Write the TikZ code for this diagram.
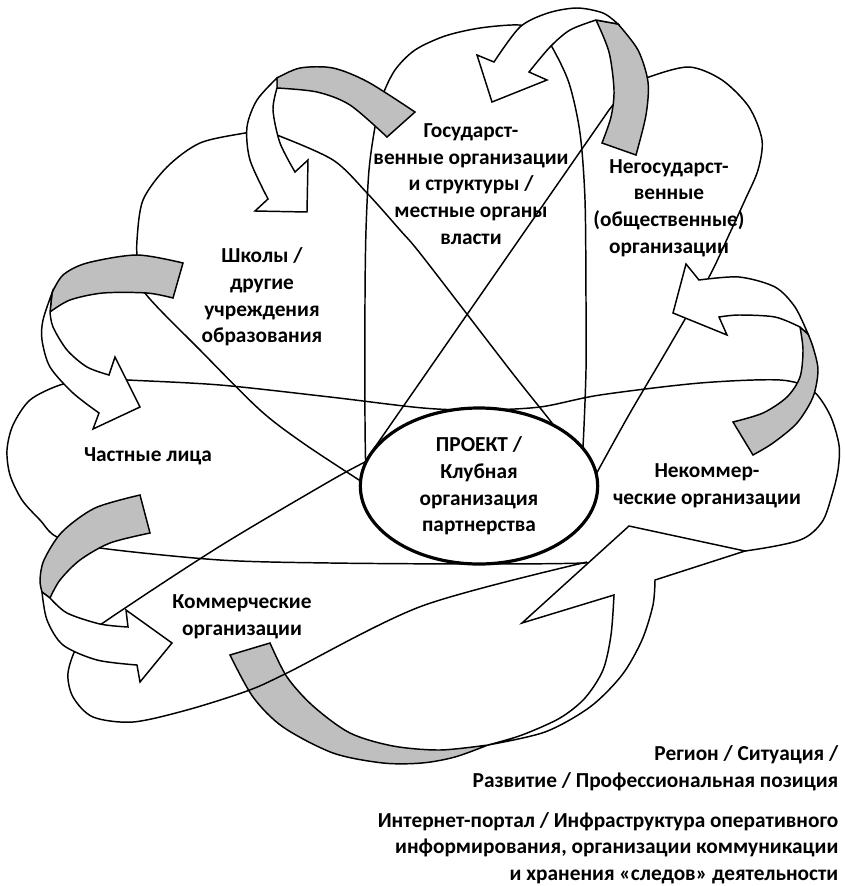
\documentclass[tikz,border=0pt]{standalone}
\usepackage{fontspec}
\setmainfont{Carlito}
\usetikzlibrary{shapes.geometric}
\definecolor{ribbongray}{RGB}{191,191,191}

\begin{document}
\begin{tikzpicture}[x=0.75pt, y=-0.75pt, line width=1.1pt]
  \tikzstyle{orgtext} = [font=\fontsize{16}{20}\selectfont\bfseries,
  align=center, inner sep=0pt]
  \tikzstyle{ribbon} = [draw, fill=white]
  \tikzstyle{ribbonback} = [draw, fill=ribbongray]

  \useasboundingbox (0,0) rectangle (844,886);

  % Petals behind the ribbons
  \draw plot[smooth cycle] coordinates {(60,385) (95,378) (128,380) (220,385)
    (330,397) (423,408) (480,410) (540,407) (600,395) (700,383) (780,380)
    (812,390) (830,415) (839,445) (838,470) (832,495) (822,522) (800,540)
    (745,551) (670,558) (585,563) (480,564) (330,563) (220,560) (100,548)
    (57,537) (40,520) (22,500) (10,475) (7,450) (13,425) (30,400)};
  \draw plot[smooth] coordinates {(366,485) (365,420) (365,300) (366,230)
    (369,170) (375,127) (382,97) (395,70) (415,50) (445,36) (480,28)
    (519,25) (540,32) (552,47) (569,83) (580,133) (585,200) (586,300)
    (586,370) (583,447) (580,475)};
  \draw (366,460) -- (609,110) plot[smooth] coordinates {(609,110) (628,88)
    (649,77) (689,67) (722,80) (749,107) (762,140) (758,170) (745,200)
    (728,237) (709,277) (670,345) (630,413) (600,467) (585,495)};
  \draw plot[smooth] coordinates {(370,488) (362,482) (303,443) (260,410)
    (200,350) (145,293) (138,265) (137,240) (143,200) (167,167) (200,143)
    (245,133) (262,131) (277,135) (333,160) (367,193) (400,230) (423,257)
    (510,370) (552,423) (575,455)};

  % Ribbon arrows
  \draw[ribbonback] plot[smooth] coordinates {(596,20) (609,52) (614,90)
    (611,117) (602,143)} -- (636,155) -- plot[smooth] coordinates {(636,155)
    (646,115) (648,82) (638,50) (618,24)} -- cycle;
  \draw[ribbon] plot[smooth] coordinates {(596,20) (570,30) (550,47) (529,72)}
    -- (547,80) -- (492,102) -- (477,55) -- plot[smooth] coordinates {(494,62)
    (520,27) (548,13) (577,8) (603,13) (618,24)} -- cycle;

  \draw[ribbonback] plot[smooth] coordinates {(277,78) (300,68) (333,68)
    (368,82) (415,112)} -- (387,137) -- plot[smooth] coordinates {(387,137)
    (350,105) (317,92) (277,88)} -- cycle;
  \draw[ribbon] plot[smooth] coordinates {(277,78) (257,100) (247,127)
    (250,160) (268,199)} -- (255,211) -- (307,212) -- (308,160)
    -- plot[smooth] coordinates {(295,172) (280,143) (273,110) (277,88)} -- cycle;

  \draw[ribbonback] plot[smooth] coordinates {(52,293) (63,275) (87,263)
    (137,255) (183,263)} -- (173,298) -- plot[smooth] coordinates {(173,298)
    (147,293) (103,293) (70,300) (50,312)} -- cycle;
  \draw[ribbon] plot[smooth] coordinates {(52,293) (43,320) (42,340) (50,367)
    (73,393) (99,413)} -- (93,429) -- (140,407) -- (115,357)
    -- plot[smooth] coordinates {(109,375) (87,367) (67,350) (53,327) (50,312)}
    -- cycle;

  \draw[ribbonback] plot[smooth] coordinates {(800,327) (803,350) (800,377)
    (787,397) (763,413) (733,422)} -- (753,455) -- plot[smooth] coordinates
    {(753,455) (773,443) (797,423) (813,397) (818,370) (813,347) (808,334)}
    -- cycle;
  \draw[ribbon] plot[smooth] coordinates {(808,334) (795,307) (775,287)
    (739,277) (699,280)} -- (686,264) -- (673,313) -- (727,335)
    -- plot[smooth] coordinates {(719,317) (739,315) (775,317) (800,327)}
    -- cycle;

  \draw[ribbonback] (230,655) -- plot[smooth] coordinates {(270,643) (287,677)
    (313,706) (350,733) (393,746) (440,750) (488,745)} -- plot[smooth]
    coordinates {(488,745) (455,757) (422,763) (383,763) (333,753) (283,727)
    (253,697) (230,655)} -- cycle;
  \draw[ribbon] plot[smooth] coordinates {(488,745) (522,735) (560,718)
    (585,698) (603,670) (611,635) (614,595)} -- (522,623) -- (629,526)
    -- (745,551) -- plot[smooth] coordinates {(655,580) (653,605) (642,640)
    (622,675) (590,707) (545,732) (488,745)} -- cycle;

  % Commercial petal lies over the lower ribbon
  \draw plot[smooth] coordinates {(367,461) (330,481) (217,548) (100,625)
    (78,645) (68,673) (73,697) (93,717) (133,722) (187,710) (247,691)
    (287,673) (422,606) (587,562)};

  \draw[ribbonback] plot[smooth] coordinates {(140,495) (95,508) (62,532)
    (44,560) (40,580) (42,592)} -- plot[smooth] coordinates {(50,598) (60,580)
    (80,560) (110,543) (150,533)} -- cycle;
  \draw[ribbon] plot[smooth] coordinates {(42,592) (47,620) (63,645) (97,660)
    (137,665)} -- (140,682) -- (172,643) -- (126,610) -- plot[smooth]
    coordinates {(128,627) (100,624) (67,613) (50,598)} -- cycle;

  % Define nodes
  \node[orgtext, draw, ellipse, fill=white, line width=2.4pt,
  minimum width=178pt, minimum height=117pt] (proekt) at (479,486)
  {ПРОЕКТ /\\Клубная\\организация\\партнерства};
  \node[orgtext] (gos) at (471,184)
  {Государст-\\венные организации\\и структуры /\\местные органы\\власти};
  \node[orgtext] (negos) at (669,208)
  {Негосударст-\\венные\\(общественные)\\организации};
  \node[orgtext] (shkoly) at (262,297)
  {Школы /\\другие\\учреждения\\образования};
  \node[orgtext] (chastnye) at (148,456) {Частные лица};
  \node[orgtext] (kommer) at (242,617) {Коммерческие\\организации};
  \node[orgtext] (nekommer) at (707,486) {Некоммер-\\ческие организации};
  \node[orgtext, anchor=east, align=right] (region) at (839,768)
  {Регион / Ситуация /\\Развитие / Профессиональная позиция};
  \node[orgtext, anchor=east, align=right] (portal) at (839,848)
  {Интернет-портал / Инфраструктура оперативного\\информирования,
  организации коммуникации\\и хранения «следов» деятельности};
\end{tikzpicture}
\end{document}
